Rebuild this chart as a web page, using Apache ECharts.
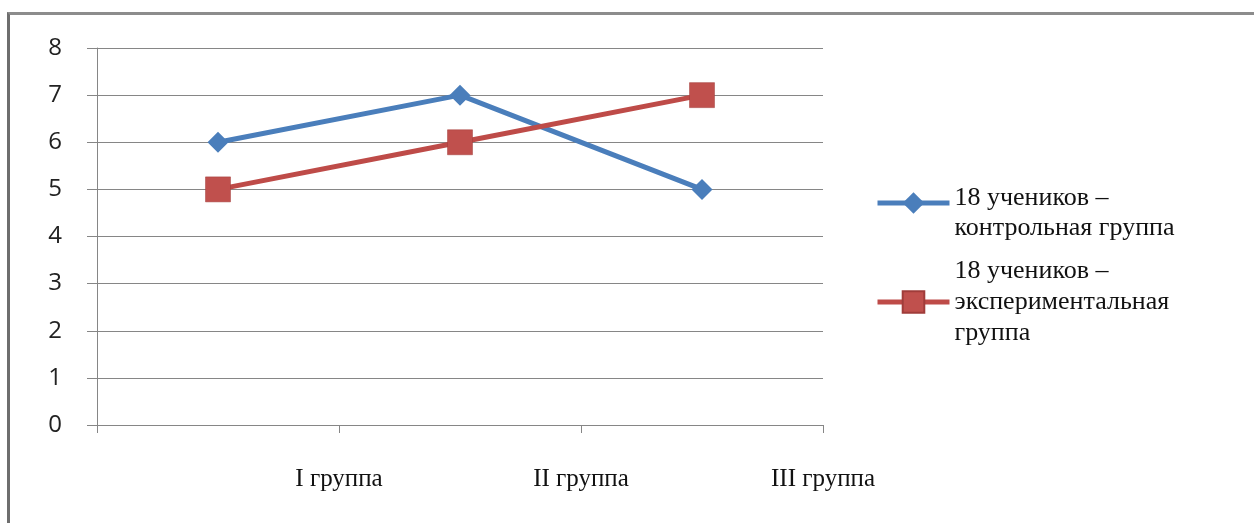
<!DOCTYPE html>
<html>
<head>
<meta charset="utf-8">
<script src="https://cdn.jsdelivr.net/npm/echarts@6/dist/echarts.min.js"></script>
<style>
html,body{margin:0;padding:0;background:#fff;}
#frame{position:absolute;left:7px;top:12px;right:0;bottom:0;border-top:3px solid #8c8c8c;border-left:3px solid #6e6e6e;}
#chart{position:absolute;left:0;top:0;width:1254px;height:523px;}
</style>
</head>
<body>
<div id="frame"></div>
<div id="chart"></div>
<script>
const categories = ['I группа', 'II группа', 'III группа'];
const tickLabels = ['', 'I группа', 'II группа', 'III группа'];
const controlName = '18 учеников – контрольная группа';
const expName = '18 учеников – экспериментальная группа';
const controlValues = [6, 7, 5];
const expValues = [5, 6, 7];

const chart = echarts.init(document.getElementById('chart'));
const serif = 'Liberation Serif';
chart.setOption({
  animation: false,
  backgroundColor: 'transparent',
  grid: { left: 97, right: 431, top: 48, bottom: 98, containLabel: false },
  legend: {
    orient: 'vertical',
    left: 870, top: 163,
    itemWidth: 72, itemHeight: 27, itemGap: 17,
    lineStyle: { width: 5 },
    data: [controlName, expName],
    formatter: function (n) {
      if (n === controlName) return '{e|}\n{t|18 учеников –}\n{t|контрольная группа}';
      return '{u|18 учеников –}\n{u|экспериментальная}\n{u|группа}';
    },
    textStyle: {
      fontFamily: serif,
      rich: {
        t: { fontFamily: serif, fontSize: 26, color: '#111', lineHeight: 30 },
        u: { fontFamily: serif, fontSize: 26, color: '#111', lineHeight: 31 },
        e: { fontSize: 10, lineHeight: 20 }
      }
    }
  },
  xAxis: [{
    type: 'category', data: categories, boundaryGap: true,
    axisLine: { lineStyle: { color: '#868686', width: 1 } },
    axisTick: { show: true, length: 8, lineStyle: { color: '#868686' } },
    axisLabel: { show: false },
    splitLine: { show: false }
  }, {
    type: 'category', data: tickLabels, boundaryGap: false, position: 'bottom',
    axisLine: { show: false }, axisTick: { show: false },
    axisLabel: { margin: 42, fontFamily: serif, fontSize: 25, color: '#111', interval: 0 },
    splitLine: { show: false }
  }],
  yAxis: {
    type: 'value', min: 0, max: 8, interval: 1,
    axisLine: { show: true, lineStyle: { color: '#868686', width: 1 } },
    axisTick: { show: true, length: 10, lineStyle: { color: '#868686' } },
    axisLabel: { margin: 35, fontFamily: 'Open Sans', fontSize: 24, color: '#222' },
    splitLine: { show: true, lineStyle: { color: '#868686', width: 1 } }
  },
  series: [{
    name: controlName, type: 'line', xAxisIndex: 0, data: controlValues,
    symbol: 'diamond', symbolSize: 21,
    lineStyle: { color: '#4a7ebb', width: 5 },
    itemStyle: { color: '#4a7ebb' }
  }, {
    name: expName, type: 'line', xAxisIndex: 0, data: expValues,
    symbol: 'rect', symbolSize: 25,
    lineStyle: { color: '#be4b48', width: 5 },
    itemStyle: { color: '#c0504d', borderColor: '#a03c3a', borderWidth: 0.5 }
  }]
});
</script>
</body>
</html>
